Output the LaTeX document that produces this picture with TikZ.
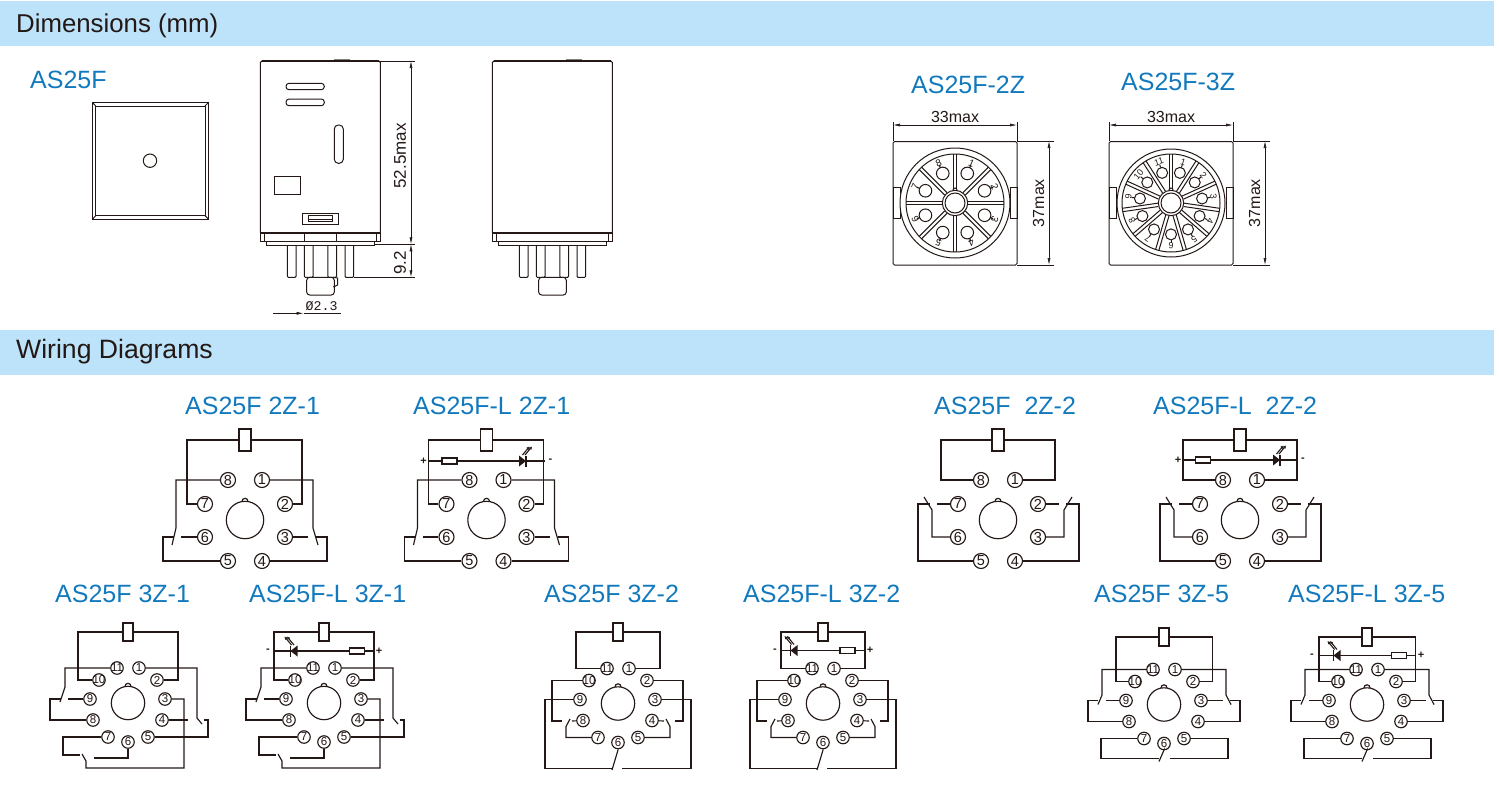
\documentclass[tikz,border=0pt]{standalone}
\usepackage{fontspec}
\setmainfont{Liberation Sans}
\newfontfamily\diafont{Liberation Mono}
\usetikzlibrary{arrows.meta}
\definecolor{bandblue}{HTML}{BCE3F9}
\definecolor{modelblue}{HTML}{1279BD}
\definecolor{inkdark}{HTML}{231815}
\tikzset{
  wire/.style={draw=inkdark,line width=1.15pt},
  part/.style={draw=inkdark,line width=1pt},
  dimline/.style={draw=inkdark,line width=0.6pt},
  dimtext/.style={text=inkdark,font=\fontsize{17}{17}\selectfont,inner sep=0pt},
  headtext/.style={text=inkdark,font=\fontsize{25.8}{26}\selectfont,anchor=base west,inner sep=0pt},
  model/.style={text=modelblue,font=\fontsize{25}{26}\selectfont,anchor=base west,inner sep=0pt},
  termbig/.style={circle,wire,fill=white,minimum size=15pt,inner sep=0pt,text=inkdark,font=\fontsize{14.5}{15}\selectfont},
  termsmall/.style={circle,wire,fill=white,minimum size=12.5pt,inner sep=0pt,text=inkdark,font=\fontsize{11.5}{12}\selectfont},
  coilbig/.style={rectangle,wire,fill=white,minimum width=12pt,minimum height=22pt,inner sep=0pt},
  coilsmall/.style={rectangle,wire,fill=white,minimum width=10pt,minimum height=18pt,inner sep=0pt},
  resistor/.style={rectangle,wire,fill=white,minimum width=15pt,minimum height=6pt,inner sep=0pt},
  signtext/.style={text=inkdark,font=\fontsize{11}{11}\selectfont\bfseries,inner sep=0pt},
  ledray/.style={draw=inkdark,line width=1.1pt,-{Latex[length=3pt,width=3.5pt]}},
  sockettext/.style={text=inkdark,inner sep=0pt},
}
\newcommand{\pts}[1]{\foreach \nm/\cx/\cy in {#1} \coordinate (\nm) at (\cx,\cy);}
\newcommand{\hubcircle}[1]{\draw[wire,fill=white] (0,-#1) circle (3); \draw[wire,fill=white] (0,0) circle (#1);}
\newcommand{\termeight}{\foreach \n/\px/\py in {1/17/-40,2/40/-16,3/40/17,4/17/41,5/-17/41,6/-40/17,7/-40/-16,8/-17/-40} \node[termbig] (p\n) at (\px,\py) {\n};}
\newcommand{\termeleven}{\foreach \n/\px/\py in {1/11/-35,2/29/-23,3/37/-4,4/34/17,5/20/34,6/0/39,7/-20/34,8/-35/17,9/-38/-4,10/-29/-23,11/-11/-35} \node[termsmall] (p\n) at (\px,\py) {\makebox[0pt]{\n}};}
\tikzset{
  pics/wiretwoa/.style={code={
    \termeight \hubcircle{18.7}
    \node[coilbig] (coil) at (0,-80) {};
    \pts{cl/-58/-80,cr/57/-80,tl/-69/8,bl/-73/25,sl/-64/17,hl/-82/17,ml/-71/17,tr/68/8,br/73/25,sr/63/17,hr/82/17,mr/71/17}
    \draw[wire] (p7) -| (cl) -- (coil);
    \draw[wire] (p2) -| (cr) -- (coil);
    \draw[wire] (p8) -| (tl) -- (bl);
    \draw[wire] (p1) -| (tr) -- (br);
    \draw[wire] (p6) -- (sl);
    \draw[wire] (p3) -- (sr);
    \draw[wire] (p5) -| (hl) -- (ml);
    \draw[wire] (p4) -| (hr) -- (mr);
  }},
  pics/wiretwob/.style={code={
    \termeight \hubcircle{18.7}
    \node[coilbig] (coil) at (0,-80) {};
    \pts{cl/-57/-80,cr/57/-80,tl/-66/-10,bl/-74/-23,sl/-61/-16,hl/-80/-16,ml/-68/-16,tr/66/-10,br/74/-23,sr/61/-16,hr/81/-16,mr/68/-16}
    \draw[wire] (p8) -| (cl) -- (coil);
    \draw[wire] (p1) -| (cr) -- (coil);
    \draw[wire] (p6) -| (tl) -- (bl);
    \draw[wire] (p3) -| (tr) -- (br);
    \draw[wire] (p7) -- (sl);
    \draw[wire] (p2) -- (sr);
    \draw[wire] (p5) -| (hl) -- (ml);
    \draw[wire] (p4) -| (hr) -- (mr);
  }},
  pics/wirethreea/.style={code={
    \termeleven \hubcircle{16.7}
    \node[coilsmall] (coil) at (0,-71) {};
    \pts{cl/-50/-71,cr/50/-71,tl/-63/-16,bl/-68/-1,sl/-60/-4,hl/-78/-4,ml/-67/-4,tr/69/15,br/74/21,sr/60/17,hr/80/17,mr/76/17,
      ga/56/65,gb/-42/58,gc/-46/51,ka/-65/52,kb/-48/52,na/-34/55}
    \draw[wire] (p10) -| (cl) -- (coil);
    \draw[wire] (p2) -| (cr) -- (coil);
    \draw[wire] (p11) -| (tl) -- (bl);
    \draw[wire] (p1) -| (tr) -- (br);
    \draw[wire] (p9) -- (sl);
    \draw[wire] (p4) -- (sr);
    \draw[wire] (p8) -| (hl) -- (ml);
    \draw[wire] (p5) -| (hr) -- (mr);
    \draw[wire] (p3) -| (ga) -| (gb) -- (gc);
    \draw[wire] (p7) -| (ka) -- (kb);
    \draw[wire] (p6) |- (na);
  }},
  pics/wirethreeb/.style={code={
    \termeleven \hubcircle{16.7}
    \node[coilsmall] (coil) at (0,-71.5) {};
    \pts{cl/-42/-71.5,cr/42/-71.5,tl/-66/17.5,bl/-56.5/17.5,sl/-46/17.5,hl/-52/23,ml/-48/15.5,tr/65/17.5,br/57/17.5,sr/46/17.5,hr/52/23,mr/48/15.5,
      ga/-73/65,gb/-6/65,gc/73/65,gd/4/65,na/0/46.5,nb/-6/66.5}
    \draw[wire] (p11) -| (cl) -- (coil);
    \draw[wire] (p1) -| (cr) -- (coil);
    \draw[wire] (p10) -| (tl) -- (bl);
    \draw[wire] (p2) -| (tr) -- (br);
    \draw[wire] (p8) -- (sl);
    \draw[wire] (p4) -- (sr);
    \draw[wire] (p7) -| (hl) -- (ml);
    \draw[wire] (p5) -| (hr) -- (mr);
    \draw[wire] (p9) -| (ga) -- (gb);
    \draw[wire] (p3) -| (gc) -- (gd);
    \draw[wire] (p6) -- (na) -- (nb);
  }},
  pics/wirethreee/.style={code={
    \termeleven \hubcircle{16.7}
    \node[coilsmall] (coil) at (0,-67.5) {};
    \pts{cl/-48/-67.5,cr/48.7/-67.5,tl/-62/-9.5,bl/-66/0,sl/-58/-4,hl/-76/-4,ml/-66/-4,tr/62/-9.5,br/67/0,sr/58.7/-4,hr/76/-4,mr/66/-4,
      ga/-63/54,gb/-5.5/54,gc/64/54,gd/6/54,na/0/45.5,nb/-5/57}
    \draw[wire] (p10) -| (cl) -- (coil);
    \draw[wire] (p2) -| (cr) -- (coil);
    \draw[wire] (p11) -| (tl) -- (bl);
    \draw[wire] (p1) -| (tr) -- (br);
    \draw[wire] (p9) -- (sl);
    \draw[wire] (p3) -- (sr);
    \draw[wire] (p8) -| (hl) -- (ml);
    \draw[wire] (p4) -| (hr) -- (mr);
    \draw[wire] (p7) -| (ga) -- (gb);
    \draw[wire] (p5) -| (gc) -- (gd);
    \draw[wire] (p6) -- (na) -- (nb);
  }},
  pics/ledbar/.style args={#1/#2/#3/#4/#5}{code={
    \coordinate (bl) at (-#2,#1);
    \coordinate (br) at (#2,#1);
    \node[resistor] (res) at (#3,#1) {};
    \draw[wire] (bl) -- (res) -- (br);
    \begin{scope}[shift={(#4,#1)},xscale=#5]
      \fill[inkdark] (-3.5,-5.5) -- (3.5,0) -- (-3.5,5.5) -- cycle;
      \draw[wire] (3.5,-5.5) -- (3.5,5.5);
      \draw[ledray] (0,-6) -- (7,-14.5);
      \draw[ledray] (2.5,-6) -- (9.5,-14.5);
    \end{scope}
    \node[signtext] (plus) at ({(0-#5)*(#2+5)},#1) {+};
    \node[signtext] (minus) at ({#5*(#2+6)},#1) {-};
  }},
  pics/relaybody/.style={code={
    \foreach \px in {27,44,67.5,84.7}
      \draw[part,fill=white,rounded corners=1pt] (\px,184.7) -- (\px,216.3) -- (\px+8.7,216.3) -- (\px+8.7,184.7);
    \draw[part,fill=white,rounded corners=3pt] (46.4,216.3) -- (46.4,234) -- (74,234) -- (74,216.3) -- cycle;
    \draw[part] (6.4,180.7) rectangle (113.7,184.7);
    \draw[part,rounded corners=1.5pt] (0,172) -- (0,0) -- (120,0) -- (120,172);
    \draw[part] (0,172) rectangle (120,180.7);
    \draw[part] (3.7,172) -- (3.7,180.7) (116.3,172) -- (116.3,180.7);
    \draw[draw=inkdark,line width=1.4pt] (0,172) -- (120,172);
    \draw[draw=inkdark,line width=1.3pt] (1.5,0) -- (118.5,0);
    \draw[draw=gray,line width=0.8pt] (74,-1.6) -- (90,-1.6);
  }},
  pics/sockettop/.style args={#1/#2/#3/#4/#5/#6}{code={
    \draw[part,rounded corners=1.5pt] (-62,-61.5) rectangle (62,62);
    \draw[part] (-62,-15.5) rectangle (-55,15.5);
    \draw[part] (55,-15.5) rectangle (62,15.5);
    \draw[part,fill=white] (0,0) circle (#2);
    \draw[part] (0,0) circle (#3);
    \foreach \k [evaluate=\k as \a using 90-(\k-1)*360/#1,evaluate=\k as \b using 90-(\k-0.5)*360/#1] in {1,...,#1} {
      \draw[part,rotate=\a] (13,-1.7) -- (#3,-1.7) (13,1.7) -- (#3,1.7);
      \draw[part] (-\b:#4) circle (#5);
      \draw[part] (-\b:#4+#5) -- (-\b:#4+#5+3);
      \node[sockettext,font=\fontsize{#6}{#6}\selectfont,rotate=\b-90] (t\k) at (-\b:43) {\k};
    }
    \draw[part,fill=white] (0,-13) circle (2);
    \draw[part,fill=white] (0,0) circle (12.7);
    \draw[part] (0,0) circle (10);
    \draw[dimline] (-62,-62) -- (-62,-81) (62,-62) -- (62,-81);
    \draw[dimline,<->] (-62,-78) -- (62,-78);
    \node[dimtext,font=\fontsize{16}{16}\selectfont] (wd) at (0,-86) {33max};
    \draw[dimline] (62,-62) -- (99,-62) (62,62) -- (99,62);
    \draw[dimline,<->] (94,-62) -- (94,62);
    \node[dimtext,font=\fontsize{16}{16}\selectfont,rotate=90] (ht) at (83.5,0) {37max};
  }},
}
\begin{document}
\begin{tikzpicture}[x=1pt,y=-1pt,>={Latex[length=7pt,width=3pt]}]
\useasboundingbox (0,0) rectangle (1499,807);
\fill[bandblue] (0,1) rectangle (1494,45.5);
\fill[bandblue] (0,330) rectangle (1494,375);
\node[headtext] (dimhead) at (16,32) {Dimensions (mm)};
\node[headtext,font=\fontsize{26.6}{27}\selectfont] (wirehead) at (16,358) {Wiring Diagrams};

\node[model] (mtop) at (30,88) {AS25F};
\node[model] (mtwo) at (911,93) {AS25F-2Z};
\node[model] (mthree) at (1121,90) {AS25F-3Z};

\draw[part] (92.3,102.3) rectangle (208.7,219.3);
\draw[part] (95.7,106) rectangle (205,215.7);
\draw[part] (92.3,102.3) -- (95.7,106) (208.7,102.3) -- (205,106) (92.3,219.3) -- (95.7,215.7) (208.7,219.3) -- (205,215.7);
\draw[part] (150,160.7) circle (6.7);

\pic (front) at (260.3,61) {relaybody};
\pic (back) at (492.3,61) {relaybody};
\draw[part] (304.3,232.7) -- (304.3,241.7) (336,232.7) -- (336,241.7);
\draw[part] (333.3,277.3) -- (337.5,278) -- (337.5,285) -- (333.3,287);
\draw[part,rounded corners=3pt] (286,83.3) rectangle (324.3,89.7);
\draw[part,rounded corners=3pt] (286,99) rectangle (324.3,105.7);
\draw[part,rounded corners=4pt] (334.3,125) rectangle (343.3,163.3);
\draw[part] (274.7,176.3) rectangle (300.7,194.3);
\draw[part] (302.3,213.3) rectangle (338.3,224);
\draw[part] (308.3,215.6) rectangle (332.7,221.7);
\draw[part] (308.3,219) -- (332.7,219);

\draw[dimline] (380.3,61) -- (415,61) (374,244.3) -- (415,244.3) (353.7,277.3) -- (415,277.3);
\draw[dimline,<->] (411,61) -- (411,244.3);
\draw[dimline,<->] (411,244.3) -- (411,277.3);
\node[dimtext,rotate=90] (hmain) at (400,156) {52.5max};
\node[dimtext,rotate=90] (hpin) at (400,262.7) {9.2};
\draw[dimline] (303.5,313.3) -- (341,313.3);
\draw[dimline,->] (273.3,313.3) -- (303.5,313.3);
\node[dimtext,font=\diafont\fontsize{13.3}{14}\selectfont] (dpin) at (321.7,306) {Ø2.3};

\pic (stwo) at (955,203) {sockettop={8/55/49/32/6.3/10}};
\pic (sthree) at (1171,203) {sockettop={11/54/49/31.4/5.5/9}};

\node[model] (ma) at (185,414) {AS25F 2Z-1};
\node[model] (mb) at (413,414) {AS25F-L 2Z-1};
\node[model] (mc) at (934,414) {AS25F\ \ 2Z-2};
\node[model] (md) at (1153,414) {AS25F-L\ \ 2Z-2};
\node[model] (me) at (55,602) {AS25F 3Z-1};
\node[model] (mf) at (249,602) {AS25F-L 3Z-1};
\node[model] (mg) at (544,602) {AS25F 3Z-2};
\node[model] (mh) at (743,602) {AS25F-L 3Z-2};
\node[model] (mi) at (1094,602) {AS25F 3Z-5};
\node[model] (mj) at (1288,602) {AS25F-L 3Z-5};

\pic (wa) at (245,520) {wiretwoa};
\pic (wb) at (486.5,520) {wiretwoa};
\pic (lb) at (486.5,520) {ledbar={-59/58/-37/36/1}};
\pic (wc) at (998,520) {wiretwob};
\pic (wd) at (1240,520) {wiretwob};
\pic (ld) at (1240,520) {ledbar={-60/57/-37/36.5/1}};
\pic (we) at (128,703) {wirethreea};
\pic (wf) at (324,703) {wirethreea};
\pic (lf) at (324,703) {ledbar={-52/50/33/-30/-1}};
\pic (wg) at (618,703.5) {wirethreeb};
\pic (wh) at (823,703.5) {wirethreeb};
\pic (lh) at (823,703.5) {ledbar={-53/42/24.5/-29/-1}};
\pic (wi) at (1164,704.5) {wirethreee};
\pic (wj) at (1367,704.5) {wirethreee};
\pic (lj) at (1367,704.5) {ledbar={-49/49/32/-30/-1}};
\end{tikzpicture}
\end{document}
